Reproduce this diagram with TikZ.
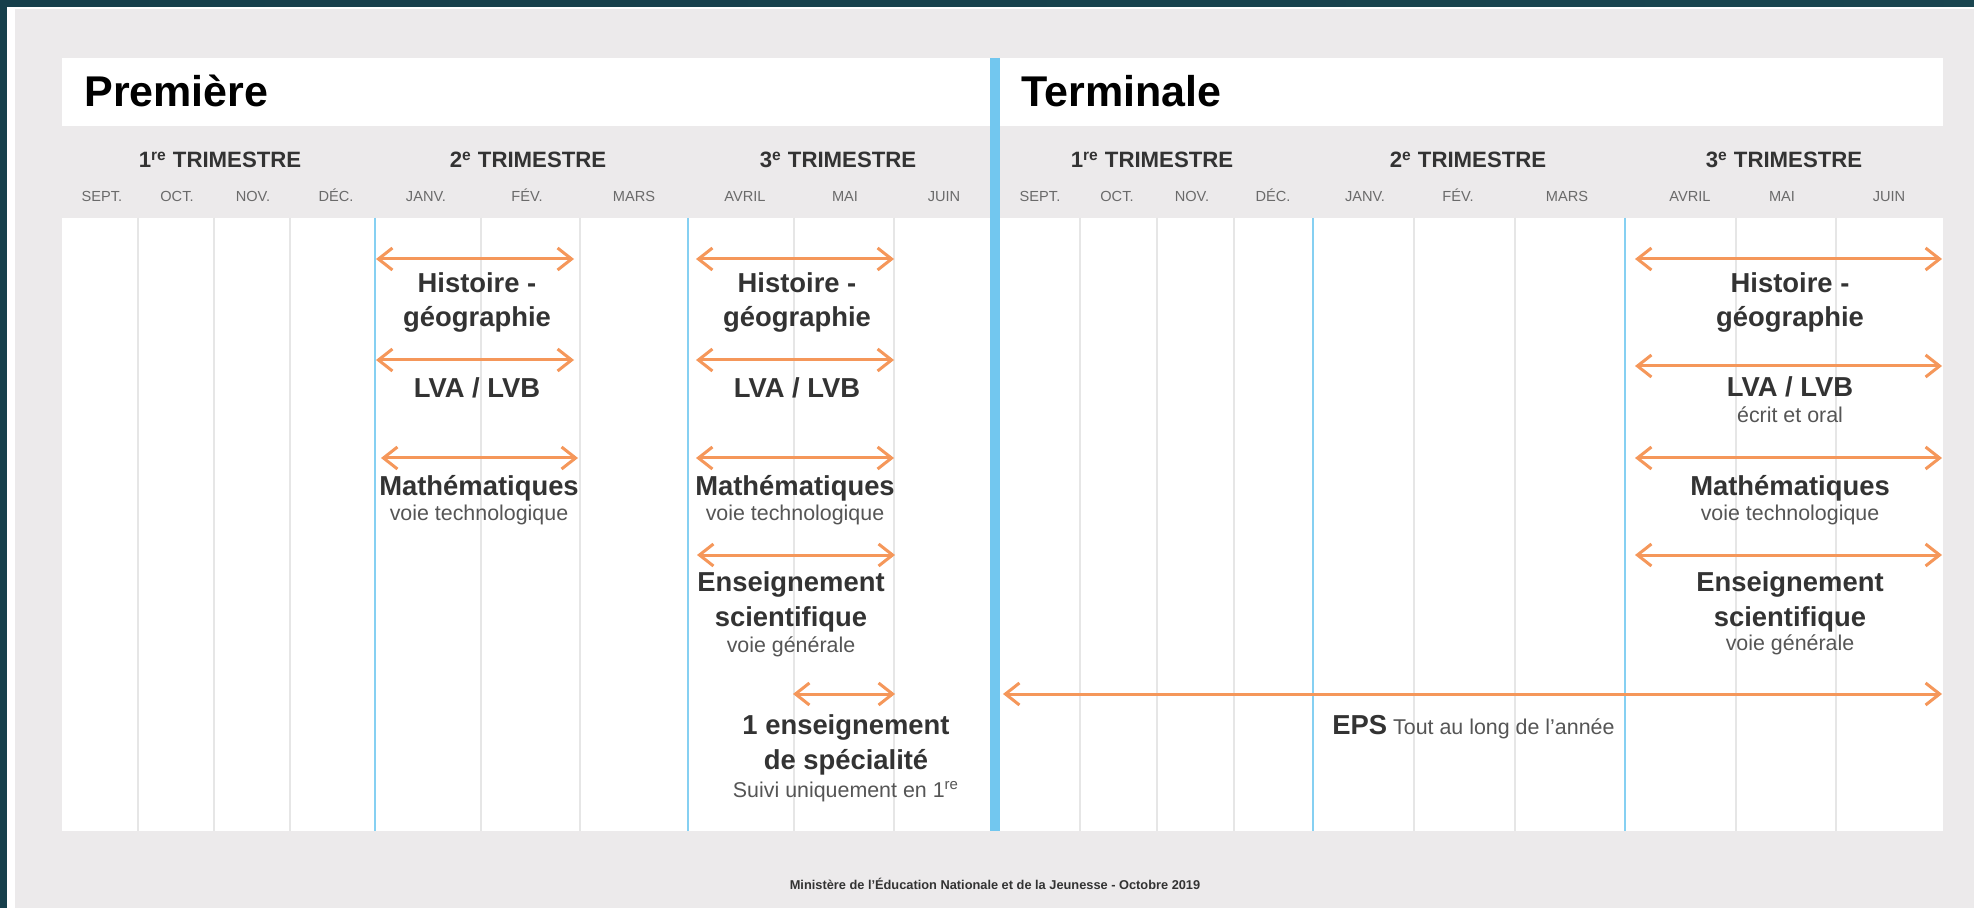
\documentclass[tikz,border=0pt]{standalone}
\usepackage{fontspec}
\setmainfont{Liberation Sans}
\usetikzlibrary{arrows.meta}
\definecolor{frame1}{HTML}{163F4B}
\definecolor{frame2}{HTML}{2F6B6A}
\definecolor{panel}{HTML}{ECEAEB}
\definecolor{linegray}{HTML}{E6E6E6}
\definecolor{skyblue}{HTML}{86D0F2}
\definecolor{barblue}{HTML}{72C7EF}
\definecolor{arroworange}{HTML}{F5975A}
\definecolor{inkdark}{HTML}{333333}
\definecolor{inkgray}{HTML}{555555}
\definecolor{inkmonth}{HTML}{6A6A6A}

\begin{document}
\begin{tikzpicture}[x = 0.5pt, y = -0.5pt,
  subject/.style = {font=\fontsize{13.7}{17.2}\selectfont\bfseries, text=inkdark, align=center, anchor=base, inner sep=0pt},
  remark/.style = {font=\fontsize{10.7}{13}\selectfont, text=inkgray, anchor=base, inner sep=0pt},
  term/.style = {font=\fontsize{11.1}{13}\selectfont\bfseries, text=inkdark, anchor=base, inner sep=0pt},
  month/.style = {font=\fontsize{7.3}{9}\selectfont, text=inkmonth, anchor=base, inner sep=0pt},
  year/.style = {font=\fontsize{21.5}{24}\selectfont\bfseries, text=black, anchor=base west, inner sep=0pt},
  period/.style = {arroworange, line width=1.5pt, {Straight Barb[length=7pt,width=11pt]}-{Straight Barb[length=7pt,width=11pt]}},
  gridline/.style = {linegray, line width=0.8pt},
  limit/.style = {skyblue, line width=1.3pt}]

\useasboundingbox (0, 0) rectangle (1974, 908);
\shade [left color = frame1, middle color = frame2, right color = frame1!85!frame2] (0, 0) rectangle (1974, 908);
\fill [white] (7, 7) rectangle (1974, 908);
\fill [panel] (15, 9) rectangle (1974, 908);

% year headers and grids
\fill [white] (62, 58) rectangle (990, 126);
\fill [white] (1000, 58) rectangle (1943, 126);
\fill [white] (62, 218) rectangle (990, 831);
\fill [white] (1000, 218) rectangle (1943, 831);
\draw [gridline] (138, 218) -- (138, 831) (214, 218) -- (214, 831) (290, 218) -- (290, 831) (481, 218) -- (481, 831) (580, 218) -- (580, 831) (794, 218) -- (794, 831) (894, 218) -- (894, 831);
\draw [gridline] (1080, 218) -- (1080, 831) (1157, 218) -- (1157, 831) (1234, 218) -- (1234, 831) (1414, 218) -- (1414, 831) (1515, 218) -- (1515, 831) (1736, 218) -- (1736, 831) (1836, 218) -- (1836, 831);
\draw [limit] (375, 218) -- (375, 831) (688, 218) -- (688, 831) (1313, 218) -- (1313, 831) (1625, 218) -- (1625, 831);
\fill [barblue] (990, 58) rectangle (1000, 831);

\node [year] (premiere) at (84, 107) {Première};
\node [year] (terminale) at (1021, 107) {Terminale};

% trimestres
\node [term] (t1P) at (220, 168) {1\textsuperscript{re} TRIMESTRE};
\node [term] (t2P) at (528, 168) {2\textsuperscript{e} TRIMESTRE};
\node [term] (t3P) at (838, 168) {3\textsuperscript{e} TRIMESTRE};
\node [term] (t1T) at (1152, 168) {1\textsuperscript{re} TRIMESTRE};
\node [term] (t2T) at (1468, 168) {2\textsuperscript{e} TRIMESTRE};
\node [term] (t3T) at (1784, 168) {3\textsuperscript{e} TRIMESTRE};

% months
\node [month] (sepP) at (102, 202) {SEPT.}; \node [month] (octP) at (177, 202) {OCT.};
\node [month] (novP) at (253, 202) {NOV.}; \node [month] (decP) at (336, 202) {DÉC.};
\node [month] (janP) at (426, 202) {JANV.}; \node [month] (fevP) at (527, 202) {FÉV.};
\node [month] (marP) at (634, 202) {MARS}; \node [month] (avrP) at (745, 202) {AVRIL};
\node [month] (maiP) at (845, 202) {MAI}; \node [month] (juiP) at (944, 202) {JUIN};
\node [month] (sepT) at (1040, 202) {SEPT.}; \node [month] (octT) at (1117, 202) {OCT.};
\node [month] (novT) at (1192, 202) {NOV.}; \node [month] (decT) at (1273, 202) {DÉC.};
\node [month] (janT) at (1365, 202) {JANV.}; \node [month] (fevT) at (1458, 202) {FÉV.};
\node [month] (marT) at (1567, 202) {MARS}; \node [month] (avrT) at (1690, 202) {AVRIL};
\node [month] (maiT) at (1782, 202) {MAI}; \node [month] (juiT) at (1889, 202) {JUIN};

% periods of the epreuves
\coordinate (hgP2a) at (376, 259); \coordinate (hgP2b) at (574, 259);
\coordinate (hgP3a) at (696, 259); \coordinate (hgP3b) at (894, 259);
\coordinate (lvP2a) at (376, 360); \coordinate (lvP2b) at (574, 360);
\coordinate (lvP3a) at (696, 360); \coordinate (lvP3b) at (894, 360);
\coordinate (maP2a) at (381, 458); \coordinate (maP2b) at (578, 458);
\coordinate (maP3a) at (696, 458); \coordinate (maP3b) at (894, 458);
\coordinate (esP3a) at (697, 555); \coordinate (esP3b) at (895, 555);
\coordinate (spPa) at (793, 694); \coordinate (spPb) at (895, 694);
\coordinate (epsa) at (1003, 694); \coordinate (epsb) at (1942, 694);
\coordinate (hgTa) at (1635, 259); \coordinate (hgTb) at (1942, 259);
\coordinate (lvTa) at (1635, 366); \coordinate (lvTb) at (1942, 366);
\coordinate (maTa) at (1635, 458); \coordinate (maTb) at (1942, 458);
\coordinate (esTa) at (1635, 555); \coordinate (esTb) at (1942, 555);
\draw [period] (hgP2a) -- (hgP2b); \draw [period] (hgP3a) -- (hgP3b);
\draw [period] (lvP2a) -- (lvP2b); \draw [period] (lvP3a) -- (lvP3b);
\draw [period] (maP2a) -- (maP2b); \draw [period] (maP3a) -- (maP3b);
\draw [period] (esP3a) -- (esP3b); \draw [period] (spPa) -- (spPb);
\draw [period] (epsa) -- (epsb);
\draw [period] (hgTa) -- (hgTb); \draw [period] (lvTa) -- (lvTb);
\draw [period] (maTa) -- (maTb); \draw [period] (esTa) -- (esTb);

% subjects (base of a two-line node = last line)
\node [subject] (hgP2) at (477, 327) {Histoire -\\géographie};
\node [subject] (lvP2) at (477, 398) {LVA / LVB};
\node [subject] (maP2) at (479, 495) {Mathématiques};
\node [remark] (maP2r) at (479, 520) {voie technologique};
\node [subject] (hgP3) at (797, 327) {Histoire -\\géographie};
\node [subject] (lvP3) at (797, 398) {LVA / LVB};
\node [subject] (maP3) at (795, 495) {Mathématiques};
\node [remark] (maP3r) at (795, 520) {voie technologique};
\node [subject] (esP3) at (791, 626) {Enseignement\\scientifique};
\node [remark] (esP3r) at (791, 652) {voie générale};
\node [subject] (spP) at (846, 769) {1 enseignement\\de spécialité};
\node [remark] (spPr) at (846, 797) {Suivi uniquement en 1\textsuperscript{re}};
\node [subject] (hgT) at (1790, 327) {Histoire -\\géographie};
\node [subject] (lvT) at (1790, 397) {LVA / LVB};
\node [remark] (lvTr) at (1790, 423) {écrit et oral};
\node [subject] (maT) at (1790, 495) {Mathématiques};
\node [remark] (maTr) at (1790, 520) {voie technologique};
\node [subject] (esT) at (1790, 626) {Enseignement\\scientifique};
\node [remark] (esTr) at (1790, 650) {voie générale};
\node [remark, anchor = base west] (eps) at (1332, 734) {{\fontsize{13.7}{16}\selectfont\bfseries\color{inkdark}EPS} Tout au long de l’année};

\node [font = \fontsize{6.4}{8}\selectfont\bfseries, text = inkdark, anchor = base, inner sep = 0pt] (source) at (995, 889) {Ministère de l’Éducation Nationale et de la Jeunesse - Octobre 2019};
\end{tikzpicture}
\end{document}
